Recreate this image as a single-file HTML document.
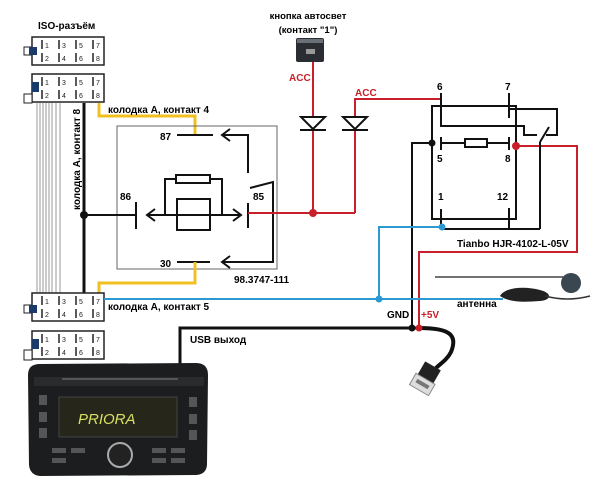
<!DOCTYPE html>
<html><head><meta charset="utf-8"><style>
body{margin:0;background:#fff}
svg{display:block;font-family:"Liberation Sans","DejaVu Sans",sans-serif;font-weight:bold}
</style></head><body>
<svg width="600" height="486" viewBox="0 0 600 486" xmlns="http://www.w3.org/2000/svg">
<defs>
<g id="conn">
<rect x="0" y="0" width="72" height="28" fill="#fff" stroke="#222" stroke-width="1.5"/>
<g stroke="#222" stroke-width="1.5">
<line x1="10" y1="3" x2="10" y2="12"/><line x1="27" y1="3" x2="27" y2="12"/><line x1="44" y1="3" x2="44" y2="12"/><line x1="61" y1="3" x2="61" y2="12"/>
<line x1="10" y1="16" x2="10" y2="25"/><line x1="27" y1="16" x2="27" y2="25"/><line x1="44" y1="16" x2="44" y2="25"/><line x1="61" y1="16" x2="61" y2="25"/>
</g>
<g font-size="7" font-weight="normal" fill="#222">
<text x="13" y="11">1</text><text x="30" y="11">3</text><text x="47" y="11">5</text><text x="64" y="11">7</text>
<text x="13" y="24">2</text><text x="30" y="24">4</text><text x="47" y="24">6</text><text x="64" y="24">8</text>
</g>
</g>
</defs>
<text x="38" y="29" font-size="10">ISO-разъём</text>
<rect x="24" y="47" width="8" height="8" fill="#fff" stroke="#222"/>
<use href="#conn" x="32" y="37"/>
<rect x="29" y="47" width="8" height="8" fill="#1a3a6a"/>
<use href="#conn" x="32" y="74"/>
<rect x="24" y="94" width="8" height="9" fill="#fff" stroke="#222"/>
<rect x="32" y="82" width="7" height="10" fill="#1a3a6a"/>
<g stroke="#999" stroke-width="1">
<line x1="37" y1="103" x2="37" y2="293"/><line x1="40" y1="103" x2="40" y2="293"/><line x1="43" y1="103" x2="43" y2="293"/><line x1="46" y1="103" x2="46" y2="293"/><line x1="49" y1="103" x2="49" y2="293"/><line x1="52" y1="103" x2="52" y2="293"/><line x1="56" y1="103" x2="56" y2="293"/><line x1="60" y1="103" x2="60" y2="293"/>
</g>
<line x1="84" y1="103" x2="84" y2="293" stroke="#111" stroke-width="3"/>
<text transform="translate(80,210) rotate(-90)" font-size="10">колодка А, контакт 8</text>
<polyline points="99,103 99,116 195,116 195,136" fill="none" stroke="#f0c020" stroke-width="3"/>
<text x="108" y="113" font-size="10">колодка А, контакт 4</text>
<rect x="117" y="126" width="160" height="143" fill="none" stroke="#666" stroke-width="1"/>
<g stroke="#111" stroke-width="2" fill="none">
<line x1="177" y1="135" x2="213" y2="135"/>
<polyline points="248,173 248,135 222,135"/><polyline points="230,129 222,135 230,141"/>
<line x1="84" y1="215" x2="136" y2="215"/>
<line x1="136" y1="202" x2="136" y2="229"/>
<line x1="147" y1="215" x2="241" y2="215"/>
<polyline points="155,209 147,215 155,221"/><polyline points="233,209 241,215 233,221"/>
<rect x="177" y="199" width="33" height="31"/>
<rect x="176" y="175" width="34" height="8"/>
<polyline points="165,215 165,179 176,179"/><polyline points="210,179 222,179 222,215"/>
<line x1="248" y1="203" x2="248" y2="228"/>
<polyline points="250,188 273,182 273,262 222,262"/><polyline points="230,256 222,262 230,268"/>
<line x1="177" y1="262" x2="210" y2="262"/>
</g>
<circle cx="84" cy="215" r="4" fill="#111"/>
<text x="160" y="140" font-size="10">87</text>
<text x="120" y="200" font-size="10">86</text>
<text x="253" y="200" font-size="10">85</text>
<text x="160" y="267" font-size="10">30</text>
<text x="234" y="283" font-size="10">98.3747-111</text>
<polyline points="195,262 195,283 99,283 99,299" fill="none" stroke="#f0c020" stroke-width="3"/>
<use href="#conn" x="32" y="293"/>
<rect x="24" y="305" width="8" height="8" fill="#fff" stroke="#222"/>
<rect x="29" y="305" width="8" height="8" fill="#1a3a6a"/>
<text x="108" y="310" font-size="10">колодка А, контакт 5</text>
<use href="#conn" x="32" y="331"/>
<rect x="24" y="350" width="8" height="10" fill="#fff" stroke="#222"/>
<rect x="32" y="339" width="7" height="10" fill="#1a3a6a"/>
<text x="308" y="19" font-size="9.5" text-anchor="middle">кнопка автосвет</text>
<text x="308" y="33" font-size="9.5" text-anchor="middle">(контакт "1")</text>
<rect x="296" y="38" width="28" height="24" rx="2" fill="#2a2e33"/>
<rect x="297" y="39" width="26" height="4" fill="#6a7078"/>
<rect x="306" y="49" width="9" height="5" fill="#999"/>
<g stroke="#c8202a" stroke-width="2" fill="none">
<line x1="313" y1="62" x2="313" y2="214"/>
<line x1="248" y1="213" x2="355" y2="213"/>
<polyline points="355,213 355,99 441,99"/>
<polyline points="516,146 577,146 577,252 419,252 419,328"/>
</g>
<text x="289" y="81" font-size="10" fill="#c8202a">ACC</text>
<text x="355" y="96" font-size="10" fill="#c8202a">ACC</text>
<g stroke="#111" stroke-width="2" fill="#fff">
<polygon points="301,117 325,117 313,129"/><line x1="300" y1="130" x2="326" y2="130"/>
<polygon points="343,117 367,117 355,129"/><line x1="342" y1="130" x2="368" y2="130"/>
</g>
<circle cx="313" cy="213" r="4" fill="#c8202a"/>
<g stroke="#111" stroke-width="2" fill="none">
<rect x="432" y="106" width="84" height="113"/>
<polyline points="441,93 441,126 524,126 524,135 537,135"/>
<polyline points="509,93 509,118"/>
<polyline points="509,109 557,109 557,135 546,135"/>
<line x1="540" y1="142" x2="549" y2="127"/>
<line x1="540" y1="142" x2="540" y2="229"/>
<line x1="441" y1="137" x2="441" y2="150"/><line x1="509" y1="137" x2="509" y2="150"/>
<line x1="441" y1="143" x2="465" y2="143"/><rect x="465" y="139" width="22" height="8"/><line x1="487" y1="143" x2="509" y2="143"/>
<line x1="441" y1="209" x2="441" y2="229"/><line x1="509" y1="208" x2="509" y2="229"/>
<polyline points="442,229 540,229"/>
<polyline points="432,143 412,143 412,328"/>
</g>
<circle cx="432" cy="143" r="3.5" fill="#111"/>
<circle cx="516" cy="146" r="4" fill="#c8202a"/>
<text x="437" y="90" font-size="10">6</text>
<text x="505" y="90" font-size="10">7</text>
<text x="437" y="162" font-size="10">5</text>
<text x="505" y="162" font-size="10">8</text>
<text x="438" y="200" font-size="10">1</text>
<text x="497" y="200" font-size="10">12</text>
<text x="457" y="247" font-size="10">Tianbo HJR-4102-L-05V</text>
<polyline points="442,227 379,227 379,299" fill="none" stroke="#2a9ad0" stroke-width="2"/>
<line x1="104" y1="299" x2="503" y2="299" stroke="#2a9ad0" stroke-width="2"/>
<circle cx="442" cy="227" r="3.5" fill="#2a9ad0"/>
<circle cx="379" cy="299" r="3.5" fill="#2a9ad0"/>
<line x1="435" y1="277" x2="565" y2="277" stroke="#444" stroke-width="1.5"/>
<circle cx="571" cy="283" r="10" fill="#3a4650"/>
<path d="M500,296 C505,287 525,286 540,290 C552,293 552,300 540,301 C525,302 510,303 500,296Z" fill="#222"/>
<path d="M545,296 C560,300 575,300 590,296" stroke="#333" stroke-width="1.5" fill="none"/>
<text x="457" y="307" font-size="10">антенна</text>
<text x="387" y="318" font-size="10">GND</text>
<text x="421" y="318" font-size="10" fill="#c8202a">+5V</text>
<polyline points="180,364 180,328 419,328" fill="none" stroke="#111" stroke-width="3"/>
<path d="M419,328 C450,328 458,335 451,352 C447,360 440,364 436,368" fill="none" stroke="#111" stroke-width="4"/>
<circle cx="412" cy="328" r="3.5" fill="#111"/>
<circle cx="419" cy="328" r="3.5" fill="#c8202a"/>
<text x="190" y="343" font-size="10">USB выход</text>
<g transform="translate(426,378) rotate(30)">
<rect x="-9" y="-14" width="18" height="15" fill="#222"/>
<rect x="-11" y="1" width="22" height="13" fill="#ddd" stroke="#888"/>
<rect x="-7" y="5" width="14" height="4" fill="#777"/>
</g>
<path d="M28,375 Q28,364 40,364 L196,363 Q208,363 208,375 L207,465 Q206,475 195,475 L40,476 Q30,475 29,465Z" fill="#1c1d1f"/>
<rect x="34" y="377" width="170" height="9" fill="#2a2b2d"/>
<line x1="62" y1="379" x2="178" y2="379" stroke="#555" stroke-width="2"/>
<rect x="59" y="397" width="118" height="40" fill="#26261a" stroke="#444"/>
<text x="78" y="424" font-size="15" font-weight="normal" fill="#d8e060" font-style="italic">PRIORA</text>
<g fill="#555">
<rect x="39" y="395" width="8" height="10"/><rect x="39" y="412" width="8" height="10"/><rect x="39" y="428" width="8" height="10"/>
<rect x="189" y="397" width="8" height="10"/><rect x="189" y="414" width="8" height="10"/><rect x="189" y="430" width="8" height="10"/>
<rect x="52" y="448" width="14" height="5"/><rect x="71" y="448" width="14" height="5"/><rect x="152" y="448" width="14" height="5"/><rect x="171" y="448" width="14" height="5"/>
<rect x="52" y="458" width="14" height="5"/><rect x="152" y="458" width="14" height="5"/><rect x="171" y="458" width="14" height="5"/>
</g>
<circle cx="120" cy="455" r="12" fill="#222" stroke="#aaa" stroke-width="2"/>
</svg>
</body></html>
